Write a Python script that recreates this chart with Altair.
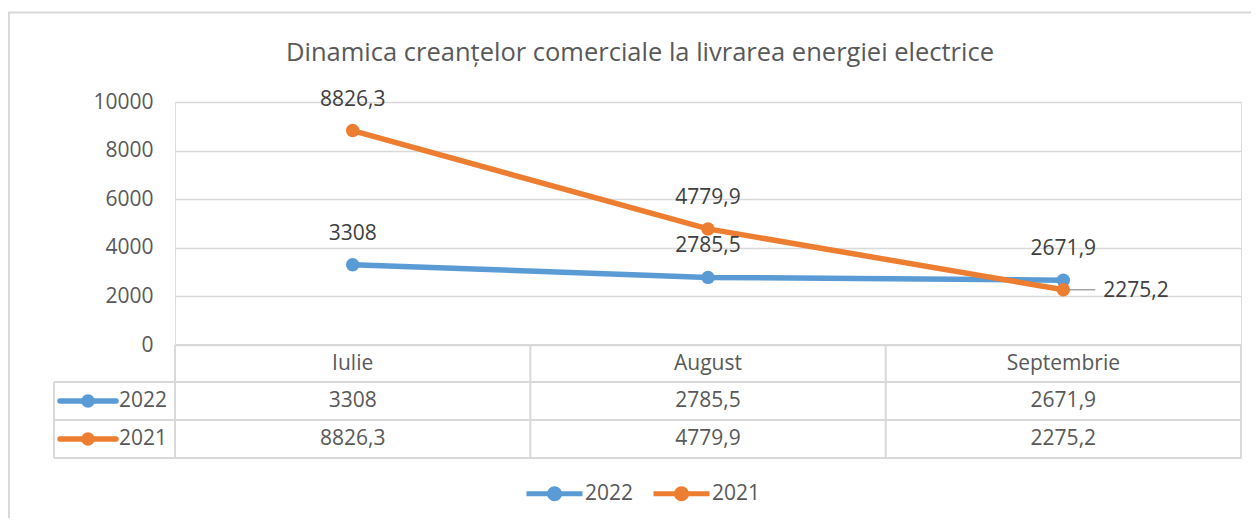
import altair as alt
import pandas as pd

# ---------------- data ----------------
months = ["Iulie", "August", "Septembrie"]
years = ["2022", "2021"]
values_2022 = [3308, 2785.5, 2671.9]
values_2021 = [8826.3, 4779.9, 2275.2]
y_ticks = [0, 2000, 4000, 6000, 8000, 10000]
title_text = "Dinamica creanțelor comerciale la livrarea energiei electrice"

# ---------------- style / layout ----------------
BLUE = "#5B9BD5"
ORANGE = "#ED7D31"
GRID = "#D9D9D9"
TXT = "#595959"
LBL = "#404040"
FONT = "Open Sans"
FS = 21

W, H = 1066, 356
PX = W / 3.0                      # pixels per category column
Y_MAX = 10000
Y_MIN = -4644                     # room for the data table below zero
row_lines = [0, -1521, -3083, -4644]
row_centers = [(row_lines[i] + row_lines[i + 1]) / 2 for i in range(3)]
hdr_left = -0.5 - 121 / PX        # left edge of the row-header column

records = []
for yr, vals in zip(years, [values_2022, values_2021]):
    for i, (m, v) in enumerate(zip(months, vals)):
        records.append({"month": m, "idx": i, "year": yr, "value": v})
df = pd.DataFrame(records)

x_scale = alt.Scale(domain=[-0.5, 2.5], nice=False, zero=False)
y_scale = alt.Scale(domain=[Y_MIN, Y_MAX], nice=False, zero=False)
color_scale = alt.Scale(domain=years, range=[BLUE, ORANGE])

Y_AX = alt.Axis(
    values=y_ticks, format="d", title=None, domain=False, ticks=False,
    labelPadding=22, labelFontSize=FS, labelFont=FONT, labelColor=TXT,
    gridColor=GRID, gridWidth=1.5)


def XQ(field):
    return alt.X(field, scale=x_scale, axis=None)


def YQ(field):
    return alt.Y(field, scale=y_scale, axis=Y_AX)


SYM = ("M-1,0L1,0"
       "M-0.18,0A0.18,0.18 0 1,1 0.18,0A0.18,0.18 0 1,1 -0.18,0Z"
       "M-0.08,0A0.08,0.08 0 1,1 0.08,0A0.08,0.08 0 1,1 -0.08,0Z")

legend = alt.Legend(
    orient="none", legendX=349, legendY=361, direction="horizontal",
    title=None, symbolType=SYM, symbolSize=3136, symbolStrokeWidth=5,
    labelFontSize=FS, labelFont=FONT, labelColor=TXT, columnPadding=9,
    labelOffset=0, padding=0,
)

X = XQ("idx:Q")
Y = YQ("value:Q")

base = alt.Chart(df)

# outer frame (stroke only)
frame = alt.Chart(pd.DataFrame({"a": [0]})).mark_rect(
    fill="white", fillOpacity=0, stroke=GRID, strokeWidth=2
).encode(x=alt.value(-166), x2=alt.value(1400),
         y=alt.value(-89.5), y2=alt.value(700))

# table grid
segs = []
for xv in [-0.5, 0.5, 1.5, 2.5]:
    segs.append({"x": xv, "x2": xv, "y": row_lines[0], "y2": row_lines[-1]})
segs.append({"x": hdr_left, "x2": hdr_left, "y": row_lines[1], "y2": row_lines[-1]})
segs.append({"x": -0.5, "x2": 2.5, "y": row_lines[0], "y2": row_lines[0]})
for yv in row_lines[1:]:
    segs.append({"x": hdr_left, "x2": 2.5, "y": yv, "y2": yv})
grid = alt.Chart(pd.DataFrame(segs)).mark_rule(color=GRID, strokeWidth=2).encode(
    x=XQ("x:Q"), x2="x2:Q", y=YQ("y:Q"), y2="y2:Q")

color = alt.Color("year:N", scale=color_scale, legend=legend)

lines = base.mark_line(strokeWidth=5.5, strokeCap="round").encode(
    x=X, y=Y, color=color, order="idx:Q")

leader = base.transform_filter(
    "datum.year == '2021' && datum.month == 'Septembrie'"
).mark_rule(color="#A6A6A6", strokeWidth=1.5, x2Offset=32).encode(
    x=X, x2="idx:Q", y=Y)

points = base.mark_circle(size=180, opacity=1).encode(x=X, y=Y, color=color)

lab = base.transform_calculate(
    label="replace(toString(datum.value), '.', ',')")

labels_above = lab.transform_filter(
    "!(datum.year == '2021' && datum.month == 'Septembrie')"
).mark_text(font=FONT, fontSize=FS, color=LBL, dy=-31, baseline="middle").encode(
    x=X, y=Y, text="label:N")

labels_right = lab.transform_filter(
    "datum.year == '2021' && datum.month == 'Septembrie'"
).mark_text(font=FONT, fontSize=FS, color=LBL, dx=40, dy=1, align="left",
            baseline="middle").encode(x=X, y=Y, text="label:N")

# data table contents
hdr_df = pd.DataFrame({"month": months, "idx": list(range(len(months)))})
header = alt.Chart(hdr_df).transform_calculate(
    ry=str(row_centers[0])
).mark_text(font=FONT, fontSize=FS, color=TXT, baseline="middle").encode(
    x=XQ("idx:Q"), y=YQ("ry:Q"), text="month:N")

cells = lab.transform_calculate(
    ry=f"datum.year == '{years[0]}' ? {row_centers[1]} : {row_centers[2]}"
).mark_text(font=FONT, fontSize=FS, color=TXT, baseline="middle").encode(
    x=X, y=YQ("ry:Q"), text="label:N")

rh_df = pd.DataFrame({"year": years, "ry": row_centers[1:]})
rh = alt.Chart(rh_df).transform_calculate(
    xs=str(hdr_left + 6 / PX), xe=str(hdr_left + 62 / PX),
    xc=str(hdr_left + 34 / PX), xt=str(hdr_left + 65 / PX))
rh_color = alt.Color("year:N", scale=color_scale, legend=None)
rh_line = rh.mark_rule(strokeWidth=5.5, strokeCap="round").encode(
    x=XQ("xs:Q"), x2="xe:Q", y=YQ("ry:Q"), color=rh_color)
rh_pt = rh.mark_circle(size=180, opacity=1).encode(
    x=XQ("xc:Q"), y=YQ("ry:Q"), color=rh_color)
rh_txt = rh.mark_text(font=FONT, fontSize=FS, color=TXT, align="left",
                      baseline="middle").encode(
    x=XQ("xt:Q"), y=YQ("ry:Q"), text="year:N")

chart = alt.layer(
    frame, grid, lines, leader, points, labels_above, labels_right,
    header, cells, rh_line, rh_pt, rh_txt
).properties(
    width=W, height=H,
    autosize=alt.AutoSizeParams(type="none"),
    padding={"left": 167, "top": 94, "right": 10, "bottom": 60},
    title=alt.TitleParams(
        text=title_text, font=FONT, fontSize=25.5, fontWeight="normal",
        color=TXT, anchor="middle", frame="group", dx=-68, offset=-74.5,
        baseline="alphabetic"),
).configure_view(stroke=None).configure(background="white")

chart.save("out.html", embed_options={"renderer": "svg", "actions": False})
